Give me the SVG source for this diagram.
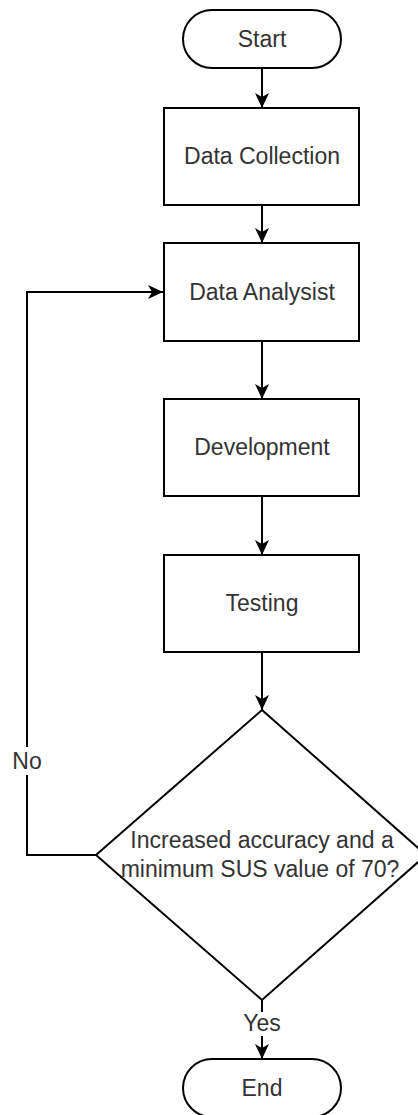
<svg xmlns="http://www.w3.org/2000/svg" width="418" height="1115" viewBox="0 0 418 1115">
<style>
.shape{fill:#ffffff;stroke:#000000;stroke-width:2}
.lbl{font-family:"Liberation Sans",Arial,sans-serif;font-size:23px;fill:#333333;text-anchor:middle}
.edge{fill:none;stroke:#000000;stroke-width:2}
</style>
<defs>
<marker id="arr" markerWidth="16" markerHeight="16" refX="15" refY="7" orient="auto" markerUnits="userSpaceOnUse">
<path d="M0,0 L15,7 L0,14 L4,7 Z" fill="#000000"/>
</marker>
</defs>
<rect width="418" height="1115" fill="#ffffff"/>
<g id="connectors">
<line class="edge" x1="262" y1="68" x2="262" y2="108" marker-end="url(#arr)"/>
<line class="edge" x1="262" y1="205" x2="262" y2="243" marker-end="url(#arr)"/>
<line class="edge" x1="262" y1="341" x2="262" y2="399" marker-end="url(#arr)"/>
<line class="edge" x1="262" y1="496" x2="262" y2="555" marker-end="url(#arr)"/>
<line class="edge" x1="262" y1="652" x2="262" y2="710" marker-end="url(#arr)"/>
<polyline class="edge" points="96,855 27,855 27,292 163,292" marker-end="url(#arr)"/>
<line class="edge" x1="262" y1="1000" x2="262" y2="1059" marker-end="url(#arr)"/>
<rect x="8" y="747" width="38" height="28" fill="#ffffff"/>
<text class="lbl" x="27" y="769">No</text>
<rect x="244" y="1012" width="36" height="24" fill="#ffffff"/>
<text class="lbl" x="262" y="1031">Yes</text>
</g>
<g id="start">
<rect class="shape" x="183" y="10" width="158" height="58" rx="29" ry="29"/>
<text class="lbl" x="262" y="47">Start</text>
</g>
<g id="data-collection">
<rect class="shape" x="164" y="108" width="195" height="97"/>
<text class="lbl" x="262" y="164">Data Collection</text>
</g>
<g id="data-analysist">
<rect class="shape" x="164" y="243" width="195" height="98"/>
<text class="lbl" x="262" y="300">Data Analysist</text>
</g>
<g id="development">
<rect class="shape" x="164" y="399" width="195" height="97"/>
<text class="lbl" x="262" y="455">Development</text>
</g>
<g id="testing">
<rect class="shape" x="164" y="555" width="195" height="97"/>
<text class="lbl" x="262" y="611">Testing</text>
</g>
<g id="decision">
<polygon class="shape" points="262,710 426,855 262,1000 96,855"/>
<text class="lbl" x="262" y="848">Increased accuracy and a</text>
<text class="lbl" x="260" y="877">minimum SUS value of 70?</text>
</g>
<g id="end">
<rect class="shape" x="183" y="1059" width="158" height="58" rx="29" ry="29"/>
<text class="lbl" x="262" y="1096">End</text>
</g>
</svg>
